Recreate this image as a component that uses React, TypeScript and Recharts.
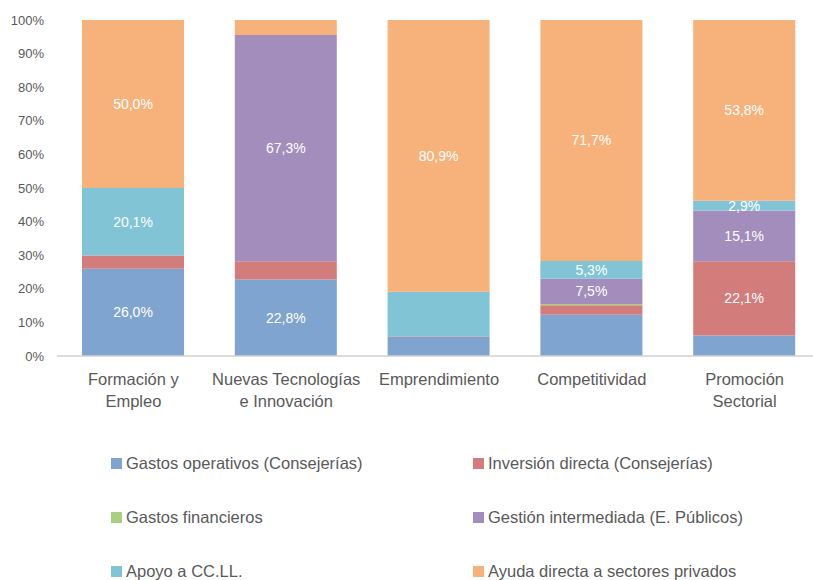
import React from 'react'
import { BarChart, Bar, XAxis, YAxis, LabelList, Legend } from 'recharts'

const categories = ['Formación y\nEmpleo', 'Nuevas Tecnologías\ne Innovación', 'Emprendimiento', 'Competitividad', 'Promoción\nSectorial']

const gastosOperativos = [26.0, 22.8, 5.7, 12.3, 6.1]
const inversionDirecta = [3.9, 5.4, 0.2, 2.8, 22.1]
const gastosFinancieros = [0, 0, 0, 0.4, 0]
const gestionIntermediada = [0, 67.3, 0, 7.5, 15.1]
const apoyoCCLL = [20.1, 0, 13.2, 5.3, 2.9]
const ayudaDirecta = [50.0, 4.5, 80.9, 71.7, 53.8]

const yTicks = [0, 10, 20, 30, 40, 50, 60, 70, 80, 90, 100]

// which bars carry a value label, per series (by category index)
const labelled: Record<string, number[]> = {
  gastosOperativos: [0, 1],
  inversionDirecta: [4],
  gastosFinancieros: [],
  gestionIntermediada: [1, 3, 4],
  apoyoCCLL: [0, 3, 4],
  ayudaDirecta: [0, 2, 3, 4],
}

const series = [
  { key: 'gastosOperativos', name: 'Gastos operativos (Consejerías)', color: '#7FA4CF', values: gastosOperativos },
  { key: 'inversionDirecta', name: 'Inversión directa (Consejerías)', color: '#D27D7C', values: inversionDirecta },
  { key: 'gastosFinancieros', name: 'Gastos financieros', color: '#AACF80', values: gastosFinancieros },
  { key: 'gestionIntermediada', name: 'Gestión intermediada (E. Públicos)', color: '#A28DBC', values: gestionIntermediada },
  { key: 'apoyoCCLL', name: 'Apoyo a CC.LL.', color: '#80C4D5', values: apoyoCCLL },
  { key: 'ayudaDirecta', name: 'Ayuda directa a sectores privados', color: '#F7B27C', values: ayudaDirecta },
]

const data = categories.map((name, i) => {
  const row: Record<string, number | string> = { name }
  series.forEach((s) => { row[s.key] = s.values[i] })
  return row
})

const FONT = '"Liberation Sans", Arial, sans-serif'
const TEXT = '#595959'

const fmt = (v: number) => `${v.toFixed(1).replace('.', ',')}%`

function CategoryTick(props: any) {
  const { x, y, payload } = props
  const lines = String(payload.value).split('\n')
  return (
    <text x={x} y={y} textAnchor="middle" fill={TEXT} fontSize={16.5} fontFamily={FONT}>
      {lines.map((l, i) => (
        <tspan key={i} x={x} dy={i === 0 ? 27 : 22}>{l}</tspan>
      ))}
    </text>
  )
}

// zero-height rects are skipped by the label list, so match on value instead of index
function makeLabel(s: { key: string; values: number[] }) {
  const shown = labelled[s.key].map((i) => s.values[i])
  return (props: any) => {
    const { x, y, width, height, value } = props
    if (!shown.includes(Number(value))) return null
    return (
      <text
        x={x + width / 2}
        y={y + height / 2}
        dy={5}
        textAnchor="middle"
        fill="#ffffff"
        fontSize={14}
        fontFamily={FONT}
      >
        {fmt(Number(value))}
      </text>
    )
  }
}

function LegendGrid() {
  return (
    <div style={{ width: 813, height: 135, position: 'relative', fontFamily: FONT, fontSize: 16.5, color: TEXT }}>
      {series.map((s, i) => (
        <div
          key={s.key}
          style={{
            position: 'absolute',
            left: i % 2 === 0 ? 111 : 473,
            top: 8 + Math.floor(i / 2) * 54,
            display: 'flex',
            alignItems: 'center',
            whiteSpace: 'nowrap',
            lineHeight: '20px',
          }}
        >
          <span style={{ width: 11, height: 11, background: s.color, display: 'inline-block', marginRight: 4 }} />
          {s.name}
        </div>
      ))}
    </div>
  )
}

export default function App() {
  return (
    <div style={{ position: 'absolute', left: 0, top: 0, width: 813, height: 580, overflow: 'hidden', background: '#fff' }}>
      <BarChart
        width={821}
        height={580}
        data={data}
        margin={{ top: 20, right: 0, left: 0, bottom: 0 }}
        barSize={102}
      >
        <XAxis
          dataKey="name"
          tick={<CategoryTick />}
          tickLine={false}
          tickSize={0}
          height={89}
          axisLine={{ stroke: '#D0D0D0', strokeWidth: 1.5 }}
          interval={0}
        />
        <YAxis
          type="number"
          domain={[0, 100]}
          ticks={yTicks}
          width={57}
          axisLine={false}
          tickLine={false}
          tickSize={0}
          tickMargin={13}
          tickFormatter={(v) => `${v}%`}
          tick={{ fontSize: 13, fill: TEXT, fontFamily: FONT }}
        />
        <Legend verticalAlign="bottom" content={<LegendGrid />} wrapperStyle={{ left: 0, width: 813 }} />
        {series.map((s) => (
          <Bar key={s.key} dataKey={s.key} name={s.name} stackId="a" fill={s.color} isAnimationActive={false}>
            <LabelList dataKey={s.key} content={makeLabel(s)} />
          </Bar>
        ))}
      </BarChart>
    </div>
  )
}
